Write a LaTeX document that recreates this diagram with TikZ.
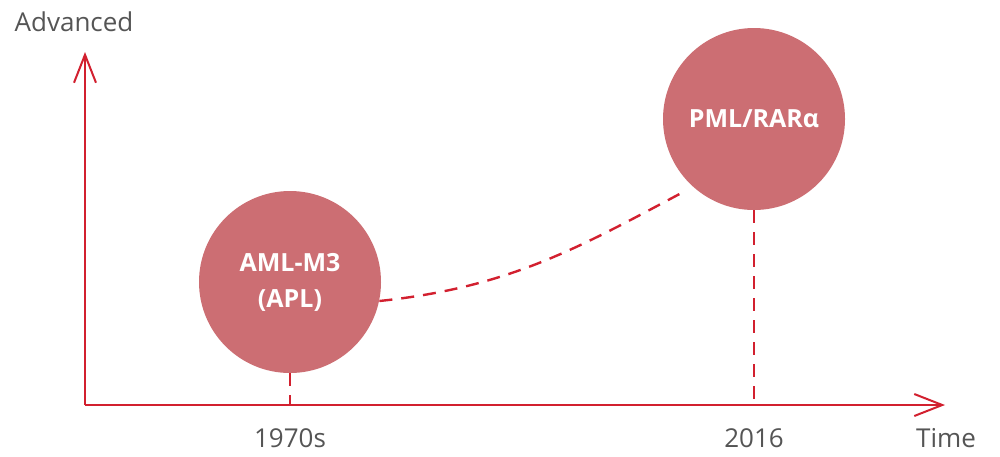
\documentclass[tikz,border=0pt]{standalone}
\usepackage{fontspec}
\setmainfont{Open Sans}
\usetikzlibrary{arrows.meta}
\definecolor{axisred}{HTML}{D2202F}
\definecolor{bubble}{HTML}{CC6E73}
\definecolor{labelgray}{HTML}{555555}
\begin{document}
\begin{tikzpicture}[x=0.5pt,y=-0.5pt,
  axis/.style={axisred,line width=1pt,-{Straight Barb[length=14pt,width=11pt,line width=1pt]}},
  guide/.style={axisred,line width=1.2pt,dash pattern=on 6.5pt off 4.5pt},
  bubblenode/.style={circle,fill=bubble,minimum size=91pt,inner sep=0pt,text=white,
    font=\bfseries\fontsize{12.5}{18}\selectfont,align=center},
  axislabel/.style={text=labelgray,font=\fontsize{13}{15}\selectfont}]
  \useasboundingbox (0,0) rectangle (1000,456);
  % axes
  \coordinate (origin) at (85,405);
  \coordinate (ytip) at (85,52);
  \coordinate (xtip) at (945,405);
  \draw[axis] (origin) -- (ytip);
  \draw[axis] (origin) -- (xtip);
  \node[axislabel] (adv) at (74,22) {Advanced};
  \node[axislabel] (time) at (946,438) {Time};
  % bubbles
  \node[bubblenode] (aml) at (290,282) {AML-M3\\(APL)};
  \node[bubblenode] (pml) at (754,119) {PML/RARα};
  \node[axislabel] (y1970) at (290,438) {1970s};
  \node[axislabel] (y2016) at (754,438) {2016};
  % guides
  \draw[guide] (aml.south) -- (aml.south |- origin);
  \draw[guide] (pml.south) -- (pml.south |- origin);
  \draw[guide,shorten >=5pt] (aml.-12) to[out=6,in=208] (pml.228);
\end{tikzpicture}
\end{document}
